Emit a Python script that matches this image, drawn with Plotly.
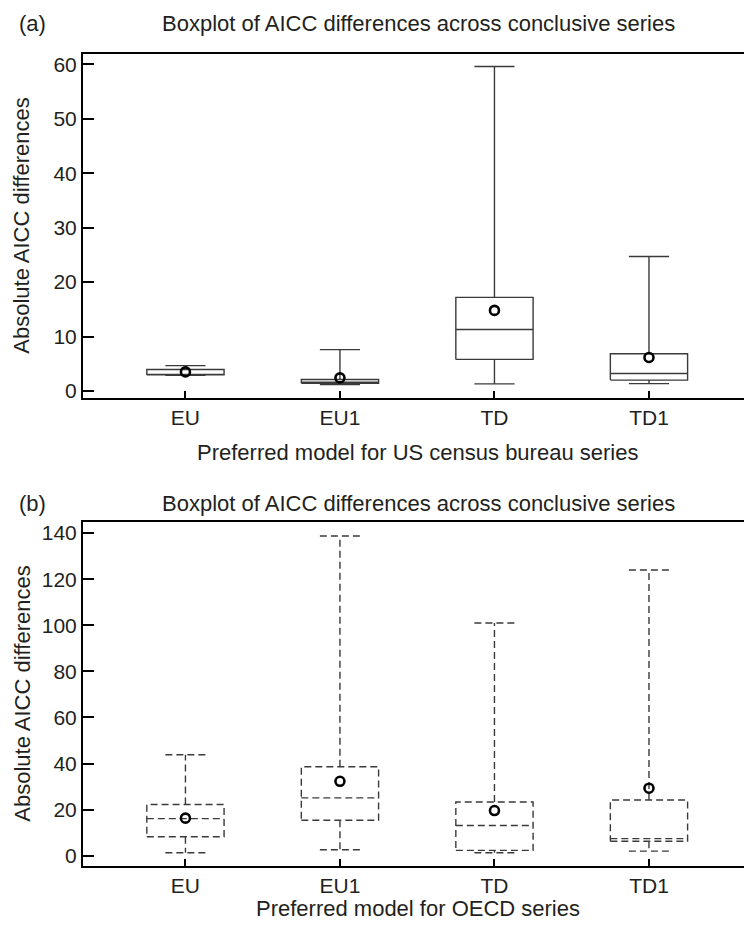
import plotly.graph_objects as go

# ---- data ----
categories = ["EU", "EU1", "TD", "TD1"]

# panel (a): US census bureau series
a_lower = [2.9, 1.2, 1.3, 1.35]
a_q1 = [2.95, 1.4, 5.8, 2.0]
a_median = [3.05, 1.6, 11.3, 3.2]
a_q3 = [3.95, 2.1, 17.2, 6.85]
a_upper = [4.65, 7.6, 59.6, 24.7]
a_mean = [3.5, 2.4, 14.8, 6.15]

# panel (b): OECD series
b_lower = [1.3, 2.6, 1.3, 2.0]
b_q1 = [8.2, 15.4, 2.3, 6.3]
b_median = [16.1, 25.1, 13.1, 7.4]
b_q3 = [22.2, 38.6, 23.3, 24.2]
b_upper = [43.8, 138.7, 101.0, 124.0]
b_mean = [16.3, 32.3, 19.6, 29.3]

a_ticks = [0, 10, 20, 30, 40, 50, 60]
b_ticks = [0, 20, 40, 60, 80, 100, 120, 140]

title_text = "Boxplot of AICC differences across conclusive series"
ytitle = "Absolute AICC differences"
a_xtitle = "Preferred model for US census bureau series"
b_xtitle = "Preferred model for OECD series"

# ---- style ----
FONT = "Liberation Sans"
TXT = "#231f20"
HALF = 0.25   # half box width (category units)
CAP = 0.13    # half cap width


def box_path(lo, q1, med, q3, hi):
    xs, ys = [], []
    for i in range(len(lo)):
        x0, x1 = i - HALF, i + HALF
        seg = [
            ([x0, x1, x1, x0, x0], [q1[i], q1[i], q3[i], q3[i], q1[i]]),
            ([x0, x1], [med[i], med[i]]),
            ([i, i], [q3[i], hi[i]]),
            ([i - CAP, i + CAP], [hi[i], hi[i]]),
            ([i, i], [q1[i], lo[i]]),
            ([i - CAP, i + CAP], [lo[i], lo[i]]),
        ]
        for sx, sy in seg:
            xs += sx + [None]
            ys += sy + [None]
    return xs, ys


fig = go.Figure()

xa, ya = box_path(a_lower, a_q1, a_median, a_q3, a_upper)
fig.add_trace(go.Scatter(x=xa, y=ya, mode="lines", xaxis="x", yaxis="y",
                         line=dict(color="#3a3a3a", width=1.4), hoverinfo="skip",
                         showlegend=False))
fig.add_trace(go.Scatter(x=list(range(len(categories))), y=a_mean, mode="markers",
                         xaxis="x", yaxis="y", showlegend=False,
                         marker=dict(symbol="circle-open", size=9, color="black",
                                     line=dict(width=2.6, color="black"))))

xb, yb = box_path(b_lower, b_q1, b_median, b_q3, b_upper)
fig.add_trace(go.Scatter(x=xb, y=yb, mode="lines", xaxis="x2", yaxis="y2",
                         line=dict(color="#3a3a3a", width=1.4, dash="7px,4px"),
                         hoverinfo="skip", showlegend=False))
fig.add_trace(go.Scatter(x=list(range(len(categories))), y=b_mean, mode="markers",
                         xaxis="x2", yaxis="y2", showlegend=False,
                         marker=dict(symbol="circle-open", size=9, color="black",
                                     line=dict(width=2.6, color="black"))))

W, H = 744, 925
ML, MR, MT, MB = 83, 0, 54, 59
PH = H - MT - MB
PW = W - ML - MR


def py(ypx):
    return (H - MB - ypx) / PH


def px(xpx):
    return (xpx - ML) / PW


xcommon = dict(range=[-0.663, 3.615], tickmode="array",
               tickvals=list(range(len(categories))), ticktext=categories,
               ticks="inside", ticklen=7, tickwidth=2, tickcolor="black",
               showline=True, linewidth=2, linecolor="black", mirror=True,
               showgrid=False, zeroline=False,
               tickfont=dict(family=FONT, size=21, color=TXT))
ycommon = dict(ticks="inside", ticklen=11, tickwidth=1.5, tickcolor="black",
               showline=True, linewidth=2, linecolor="black", mirror=False,
               showgrid=False, zeroline=False, tickmode="array",
               tickfont=dict(family=FONT, size=21, color=TXT))

fig.update_layout(
    width=W, height=H,
    margin=dict(l=ML, r=MR, t=MT, b=MB),
    paper_bgcolor="white", plot_bgcolor="white",
    font=dict(family=FONT, color=TXT),
    xaxis=dict(xcommon, anchor="y", domain=[0, 1]),
    yaxis=dict(ycommon, anchor="x", domain=[py(398), 1], range=[-1.29, 61.9],
               tickvals=a_ticks),
    xaxis2=dict(xcommon, anchor="y2", domain=[0, 1]),
    yaxis2=dict(ycommon, anchor="x2", domain=[0, py(522)], range=[-4.46, 144.8],
                tickvals=b_ticks),
)

ann = []
def add_text(text, xpx, ypx, size=22, xanchor="center", angle=0):
    ann.append(dict(text=text, xref="paper", yref="paper", x=px(xpx), y=py(ypx),
                    xanchor=xanchor, yanchor="middle", showarrow=False,
                    textangle=angle, font=dict(family=FONT, size=size, color=TXT)))

add_text("(a)", 17, 23, xanchor="left")
add_text(title_text, 418.5, 23)
add_text(a_xtitle, 418, 452)
add_text(ytitle, 21.7, 226, angle=-90)
add_text("(b)", 17, 503, xanchor="left")
add_text(title_text, 418.5, 503)
add_text(b_xtitle, 418, 908)
add_text(ytitle, 21.7, 694, angle=-90)
fig.update_layout(annotations=ann)

fig.write_html("out.html")
